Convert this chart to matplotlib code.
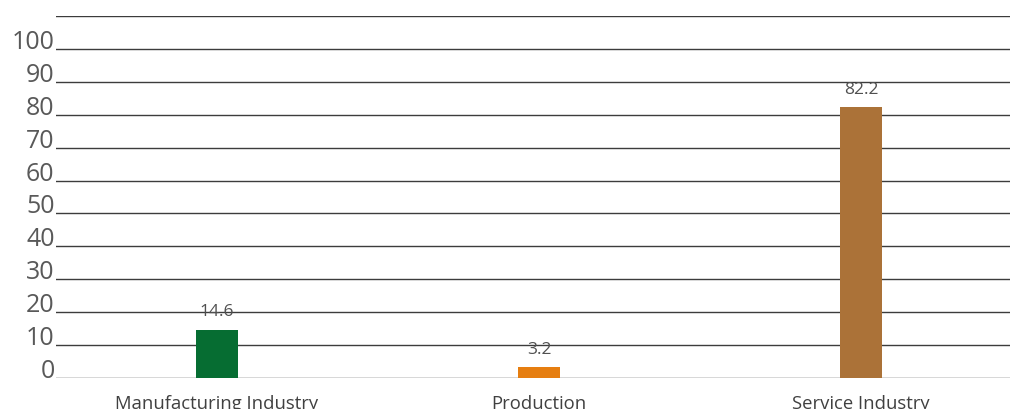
import matplotlib.pyplot as plt
import numpy as np

plt.rcParams['font.family'] = ['Open Sans', 'DejaVu Sans']

categories = ["Manufacturing Industry", "Production", "Service Industry"]
values = [14.6, 3.2, 82.2]
colors = ["#066d32", "#e67e10", "#ab7238"]
yticks = [0, 10, 20, 30, 40, 50, 60, 70, 80, 90, 100]

fig = plt.figure(figsize=(10.1, 4.09), dpi=100)
ax = fig.add_axes([56 / 1010, 1 - 378 / 409, 966 / 1010, (378 - 16) / 409])

x = np.arange(len(categories))
ax.set_xlim(-0.5, len(categories) - 0.5)
ax.set_ylim(0, 110)

# gridlines (including the top one at 110)
for y in yticks + [110]:
    ax.axhline(y, color="#3c3c3c", lw=1, zorder=1)

bars = ax.bar(x, values, width=0.13, color=colors, zorder=3)
for xi, v in zip(x, values):
    ax.annotate(f"{v}", (xi, v), xytext=(0, 7), textcoords="offset points",
                ha="center", va="bottom", fontsize=12.5, color="#505050")

ax.set_yticks(yticks)
ax.set_yticklabels([str(t) for t in yticks], fontsize=18, color="#595959")
for lbl in ax.get_yticklabels():
    lbl.set_va("baseline")
ax.set_xticks(x)
ax.set_xticklabels(categories, fontsize=13.3, color="#404040")
ax.tick_params(axis="y", length=0, pad=1)
ax.tick_params(axis="x", length=0, pad=12)
for s in ax.spines.values():
    s.set_visible(False)

fig.savefig("out.png", dpi=100)
